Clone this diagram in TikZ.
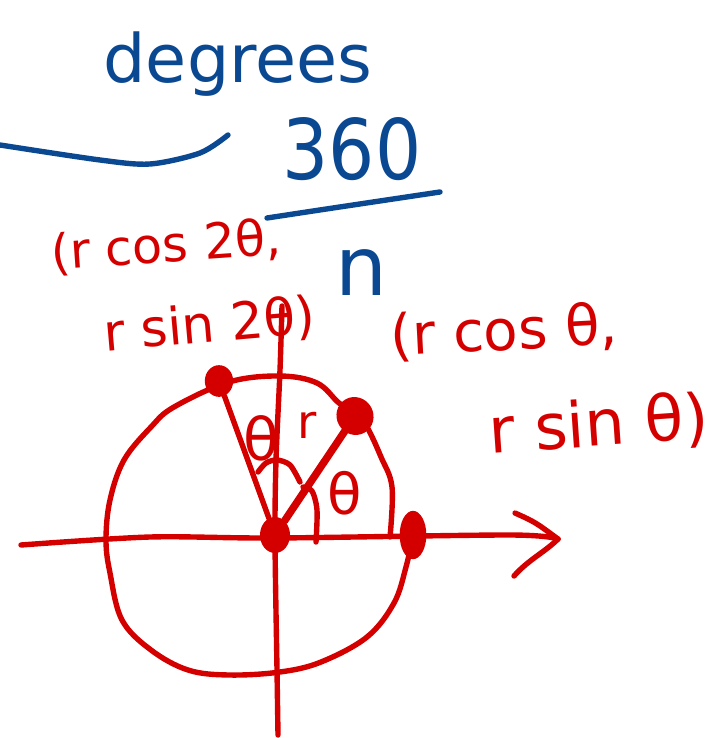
\documentclass[tikz,border=0pt]{standalone}
\usepackage{fontspec}
\setmainfont{DejaVu Sans}
\usepackage{tikz}
\usetikzlibrary{shapes.geometric}
\definecolor{inkred}{RGB}{212,0,0}
\definecolor{inkblue}{RGB}{10,72,145}
\tikzset{
  pen/.style={line width=4.6pt,line cap=round,line join=round},
  dot/.style={ellipse,fill=inkred,inner sep=0pt},
  note/.style={inner sep=0pt,anchor=base},
}

\begin{document}
\begin{tikzpicture}[x=0.03cm,y=-0.03cm]
  \useasboundingbox (0,0) rectangle (717,738);

  % blue notes
  \node[note,text=inkblue,font=\fontsize{57}{60}\selectfont] (deg) at (238,83) {degrees};
  \node[note,text=inkblue,yscale=1.15,font=\fontsize{62}{66}\selectfont] (num) at (352,180) {360};
  \node[note,text=inkblue,font=\fontsize{70}{72}\selectfont] (n) at (361,295) {n};
  \draw[pen,inkblue] plot[smooth] coordinates {(0,145) (100,160) (150,164) (200,153) (228,135)};
  \draw[pen,inkblue] plot[smooth] coordinates {(267,218) (333,208) (440,192)};

  % red labels
  \node[note,text=inkred,rotate=4,font=\fontsize{42}{44}\selectfont] (cosTwo) at (167,262) {(r cos 2θ,};
  \node[note,text=inkred,rotate=5,font=\fontsize{44}{46}\selectfont] (sinTwo) at (211,342) {r sin 2θ)};
  \node[note,text=inkred,rotate=3,font=\fontsize{48}{50}\selectfont] (cosOne) at (505,350) {(r cos θ,};
  \node[note,text=inkred,rotate=4,font=\fontsize{54}{56}\selectfont] (sinOne) at (600,446) {r sin θ)};

  % axes
  \coordinate (tip) at (558,539);
  \draw[pen,inkred] plot[smooth] coordinates {(21,545) (150,537) (275,538) (510,535) (558,539)};
  \draw[pen,inkred] (515,513) .. controls (535,522) .. (tip);
  \draw[pen,inkred] (514,576) .. controls (528,560) and (545,552) .. (tip);
  \draw[pen,inkred] plot[smooth] coordinates {(282,306) (280,370) (276,460) (275,540) (277,670) (278,735)};

  % circle
  \draw[pen,inkred] plot[smooth,tension=0.6] coordinates {(390,537) (392,487) (381,457)
    (367,427) (355,412) (339,403) (317,383) (280,376) (229,382) (174,407) (151,427)
    (124,460) (110,500) (106,540) (110,573) (122,620) (151,650) (188,670) (229,675)
    (280,672) (321,662) (367,637) (394,603) (406,567) (412,540)};

  % points
  \node[dot,minimum width=0.9cm,minimum height=1.08cm] (O) at (275,535) {};
  \node[dot,minimum width=1.1cm,minimum height=1.15cm,rotate=30] (P) at (355,416) {};
  \node[dot,minimum width=0.85cm,minimum height=0.95cm] (Q) at (219,381) {};
  \node[dot,minimum width=0.8cm,minimum height=1.45cm] (A) at (413,535) {};

  % rays and angles
  \draw[pen,inkred,line width=6.4pt] (O) -- (P);
  \draw[pen,inkred] (O) -- (Q);
  \draw[pen,inkred] plot[smooth] coordinates {(258,472) (266,463) (277,460) (290,465) (300,482)};
  \draw[pen,inkred] plot[smooth] coordinates {(303,487) (312,491) (317,510) (316,542)};
  \node[text=inkred,inner sep=0pt,font=\fontsize{50}{52}\selectfont] (thA) at (261,438) {θ};
  \node[text=inkred,inner sep=0pt,font=\fontsize{40}{42}\selectfont] (r) at (307,425) {r};
  \node[text=inkred,inner sep=0pt,font=\fontsize{48}{50}\selectfont] (thB) at (345,493) {θ};
\end{tikzpicture}
\end{document}
